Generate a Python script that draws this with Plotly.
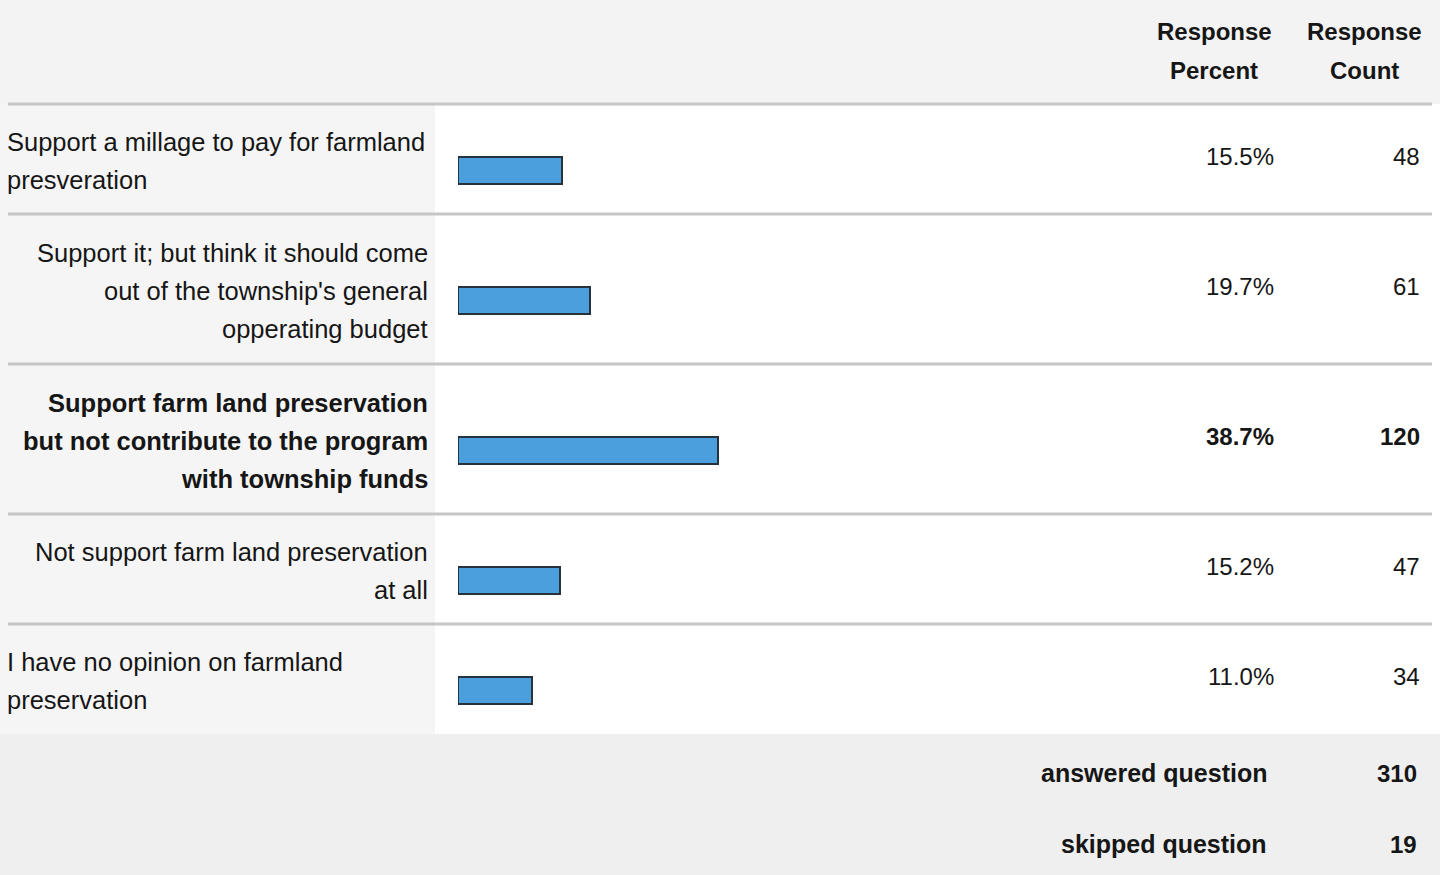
import plotly.graph_objects as go

# ---- data ----
answer_lines = [
    ["Support a millage to pay for farmland", "presveration"],
    ["Support it; but think it should come", "out of the township's general", "opperating budget"],
    ["Support farm land preservation", "but not contribute to the program", "with township funds"],
    ["Not support farm land preservation", "at all"],
    ["I have no opinion on farmland", "preservation"],
]
response_percent = [15.5, 19.7, 38.7, 15.2, 11.0]
response_count = [48, 61, 120, 47, 34]
header_percent = "Response<br>Percent"
header_count = "Response<br>Count"
footer_labels = ["answered question", "skipped question"]
footer_values = [310, 19]

# ---- style ----
W, H = 1440, 875
label_align = ["left", "right", "right", "right", "left"]
bold_row = [False, False, True, False, False]
FONT = "Liberation Sans, Arial, sans-serif"
TXT = "#161616"
HEADER_H = 104
LINE_H = 38

# row geometry derived from number of label lines
row_top, row_bot = [], []
y = HEADER_H
for lines in answer_lines:
    h = 30 + 40 * len(lines)
    row_top.append(y)
    row_bot.append(y + h)
    y += h
table_bottom = y
row_mid = [(a + b) / 2 for a, b in zip(row_top, row_bot)]
bar_y = [m + 11 for m in row_mid]

fig = go.Figure()
fig.add_trace(go.Bar(
    x=response_percent, y=bar_y, orientation="h", width=27,
    marker=dict(color="#4a9fdc", line=dict(color="#27323d", width=2)),
    hoverinfo="skip", showlegend=False,
))

shapes = []
shapes.append(dict(type="rect", xref="paper", yref="y", layer="below",
                   x0=0, x1=1, y0=0, y1=HEADER_H, fillcolor="#f3f3f3", line_width=0))
shapes.append(dict(type="rect", xref="paper", yref="y", layer="below",
                   x0=0, x1=435 / W, y0=HEADER_H, y1=table_bottom, fillcolor="#f5f5f5", line_width=0))
shapes.append(dict(type="rect", xref="paper", yref="y", layer="below",
                   x0=0, x1=1, y0=table_bottom, y1=H, fillcolor="#efefef", line_width=0))
for yy in [HEADER_H] + row_bot[:-1]:
    shapes.append(dict(type="line", xref="paper", yref="y", layer="below",
                       x0=8 / W, x1=1432 / W, y0=yy, y1=yy,
                       line=dict(color="#c6c6c6", width=3)))

ann = []
def txt(x, y, s, anchor, bold=False, size=24.5):
    ann.append(dict(xref="paper", yref="y", x=x / W, y=y, text=(f"<b>{s}</b>" if bold else s),
                    showarrow=False, xanchor=anchor, yanchor="middle", align=anchor,
                    font=dict(family=FONT, size=size, color=TXT)))

# header
for i, w in enumerate(header_percent.split("<br>")):
    txt(1214, 31 + i * 39, w, "center", True, 24)
for i, w in enumerate(header_count.split("<br>")):
    txt(1364, 31 + i * 39, w, "center", True, 24)

# rows
for r, lines in enumerate(answer_lines):
    n = len(lines)
    c = row_mid[r] + 2
    for i, line in enumerate(lines):
        yy = c + (i - (n - 1) / 2) * LINE_H
        if label_align[r] == "left":
            txt(5, yy, line, "left", bold_row[r], 25.5)
        else:
            txt(430, yy, line, "right", bold_row[r], 25.5)
    txt(1276, row_mid[r] - 3, f"{response_percent[r]:.1f}%", "right", bold_row[r], 24)
    txt(1422, row_mid[r] - 3, str(response_count[r]), "right", bold_row[r], 24)

# footer
for i, (lab, v) in enumerate(zip(footer_labels, footer_values)):
    yy = 773 + i * 71
    txt(1269, yy, lab, "right", True, 25)
    txt(1419, yy, str(v), "right", True, 24)

fig.update_layout(
    width=W, height=H, margin=dict(l=0, r=0, t=0, b=0),
    paper_bgcolor="white", plot_bgcolor="rgba(0,0,0,0)",
    xaxis=dict(domain=[458 / W, 1130 / W], range=[0, 100], visible=False, fixedrange=True),
    yaxis=dict(domain=[0, 1], range=[H, 0], visible=False, fixedrange=True),
    shapes=shapes, annotations=ann, bargap=0,
)
fig.write_html("out.html", config={"displayModeBar": False},
               post_script="document.body.style.margin='0';document.body.style.overflow='hidden';")
